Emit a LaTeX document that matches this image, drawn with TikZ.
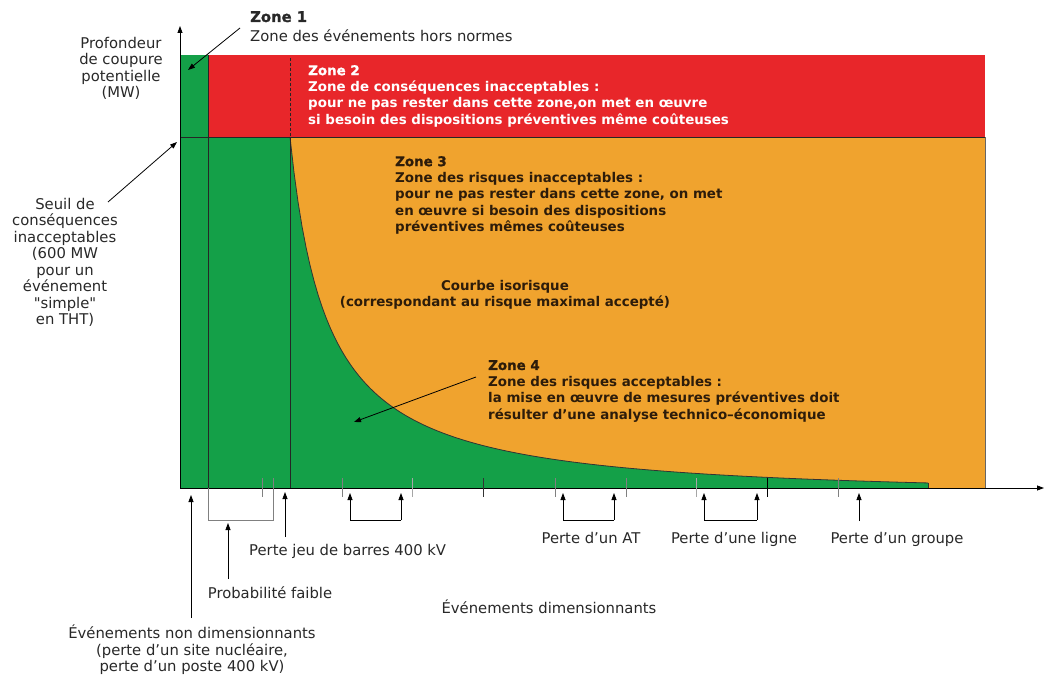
\documentclass[tikz,border=0pt]{standalone}
\usepackage{fontspec}
\setmainfont{DejaVu Sans}
\newfontfamily\heavyfont{DejaVu Sans Bold}[FakeBold=1.2]
\usetikzlibrary{arrows.meta}
\definecolor{zgreen}{RGB}{20,160,72}
\definecolor{zred}{RGB}{232,38,42}
\definecolor{zorange}{RGB}{240,163,46}
\definecolor{ztext}{RGB}{45,28,10}
\definecolor{ltext}{RGB}{40,40,40}
\newcommand\zhead[1]{{\heavyfont #1}}
\begin{document}
\begin{tikzpicture}[x=1pt,y=-1pt,
  lbl/.style={font=\fontsize{14.8}{16.5}\selectfont, text=ltext, align=center, inner sep=0pt},
  ztxt/.style={font=\bfseries\fontsize{13.4}{16.4}\selectfont, text=ztext, align=left, inner sep=0pt, anchor=north west},
  conn/.style={draw=black, line width=0.8pt, -{Triangle[length=7pt,width=5pt]}},
  brk/.style={draw=black, line width=0.8pt},
  tick/.style={line width=0.9pt}
]
\useasboundingbox (0,0) rectangle (1045,677);
% --- zones ---
\fill[zgreen] (180,55) rectangle (985,488);
\fill[zred] (208,55) rectangle (985,137);
\fill[zorange] (290,137) rectangle (985,488);
\fill[zgreen] (290,488) -- plot[domain=290:928, samples=160] (\x, {488-(139.54/((\x-252.3)/100)-19.1+0.0055*(\x-290))}) -- (928,488) -- cycle;
\draw[line width=0.8pt, black!80] plot[domain=290:928, samples=160] (\x, {488-(139.54/((\x-252.3)/100)-19.1+0.0055*(\x-290))});
\draw[line width=0.8pt, black!80] (928,482.9) -- (928,488);
% --- structure lines ---
\draw[line width=0.8pt, black!85] (180,137) -- (985,137);
\draw[line width=0.8pt, black!85] (208,55) -- (208,488);
\draw[line width=0.8pt, black!85] (290,137) -- (290,488);
\draw[line width=0.8pt, black!85, dash pattern=on 3pt off 2pt] (290,58) -- (290,137);
\draw[line width=0.8pt, black!60] (985,137) -- (985,488);
% --- axes ---
\coordinate (O) at (180,488);
\coordinate (Ytop) at (180,26);
\coordinate (Xend) at (1044,488);
\draw[conn] (O) -- (Ytop);
\draw[conn] (O) -- (Xend);
% --- ticks ---
\foreach \x/\c in {262/gray,342/gray,412/gray!70,483/black!80,555/gray,626/gray,696/gray!70,767/black,838/gray}
  \draw[tick, \c] (\x,478) -- (\x,497);
% --- probabilite bracket ---
\draw[line width=0.9pt, gray] (208,488) -- (208,520) -- (273,520) -- (273,478);
% --- texts ---
\node[lbl, anchor=north west, align=left] (z1) at (250,11)
  {\zhead{Zone 1}\\[3.5pt]Zone des événements hors normes};
\node[lbl, anchor=north] (prof) at (121,37) {Profondeur\\de coupure\\potentielle\\(MW)};
\node[lbl, anchor=north] (seuil) at (65,198) {Seuil de\\conséquences\\inacceptables\\(600 MW\\pour un\\événement\\\textquotedbl simple\textquotedbl\\en THT)};
\node[ztxt, text=white] (z2) at (308,65) {\zhead{Zone 2}\\Zone de conséquences inacceptables :\\pour ne pas rester dans cette zone,on met en œuvre\\si besoin des dispositions préventives même coûteuses};
\node[ztxt] (z3) at (395,156) {\zhead{Zone 3}\\Zone des risques inacceptables :\\pour ne pas rester dans cette zone, on met\\en œuvre si besoin des dispositions\\préventives mêmes coûteuses};
\node[ztxt, anchor=north, align=center] (courbe) at (505,280) {Courbe isorisque\\(correspondant au risque maximal accepté)};
\node[ztxt] (z4) at (488,360) {\zhead{Zone 4}\\Zone des risques acceptables :\\la mise en œuvre de mesures préventives doit\\résulter d'une analyse technico–économique};
\node[lbl, anchor=base west] (barres) at (249,555) {Perte jeu de barres 400 kV};
\node[lbl, anchor=base] (at) at (591,543) {Perte d'un AT};
\node[lbl, anchor=base] (ligne) at (734,543) {Perte d'une ligne};
\node[lbl, anchor=base] (groupe) at (897,543) {Perte d'un groupe};
\node[lbl, anchor=base] (proba) at (270,598) {Probabilité faible};
\node[lbl, anchor=base] (dimens) at (549,613) {Événements dimensionnants};
\node[lbl, anchor=north] (nondim) at (192,625) {Événements non dimensionnants\\(perte d'un site nucléaire,\\perte d'un poste 400 kV)};
% --- connectors ---
\coordinate (z1s) at (240,28);   \coordinate (z1t) at (188,70);
\coordinate (ses) at (108,202);  \coordinate (set) at (177,142);
\coordinate (z4s) at (476,377);  \coordinate (z4t) at (354,422);
\draw[conn] (z1s) -- (z1t);
\draw[conn] (ses) -- (set);
\draw[conn] (z4s) -- (z4t);
\coordinate (nds) at (191,618);  \coordinate (ndt) at (191,495);
\coordinate (pfs) at (228,579);  \coordinate (pft) at (228,523);
\coordinate (pbs) at (285,537);  \coordinate (pbt) at (285,492);
\coordinate (grs) at (859,521);  \coordinate (grt) at (859,493);
\draw[conn] (nds) -- (ndt);
\draw[conn] (pfs) -- (pft);
\draw[conn] (pbs) -- (pbt);
\draw[conn] (grs) -- (grt);
\foreach \a/\b in {350/401,563/614,704/757}{
  \coordinate (ba) at (\a,493);
  \coordinate (bb) at (\b,493);
  \draw[conn] (\a,520) -- (ba);
  \draw[conn] (\b,520) -- (bb);
  \draw[brk] (\a,520) -- (\b,520);
}
\end{tikzpicture}
\end{document}
